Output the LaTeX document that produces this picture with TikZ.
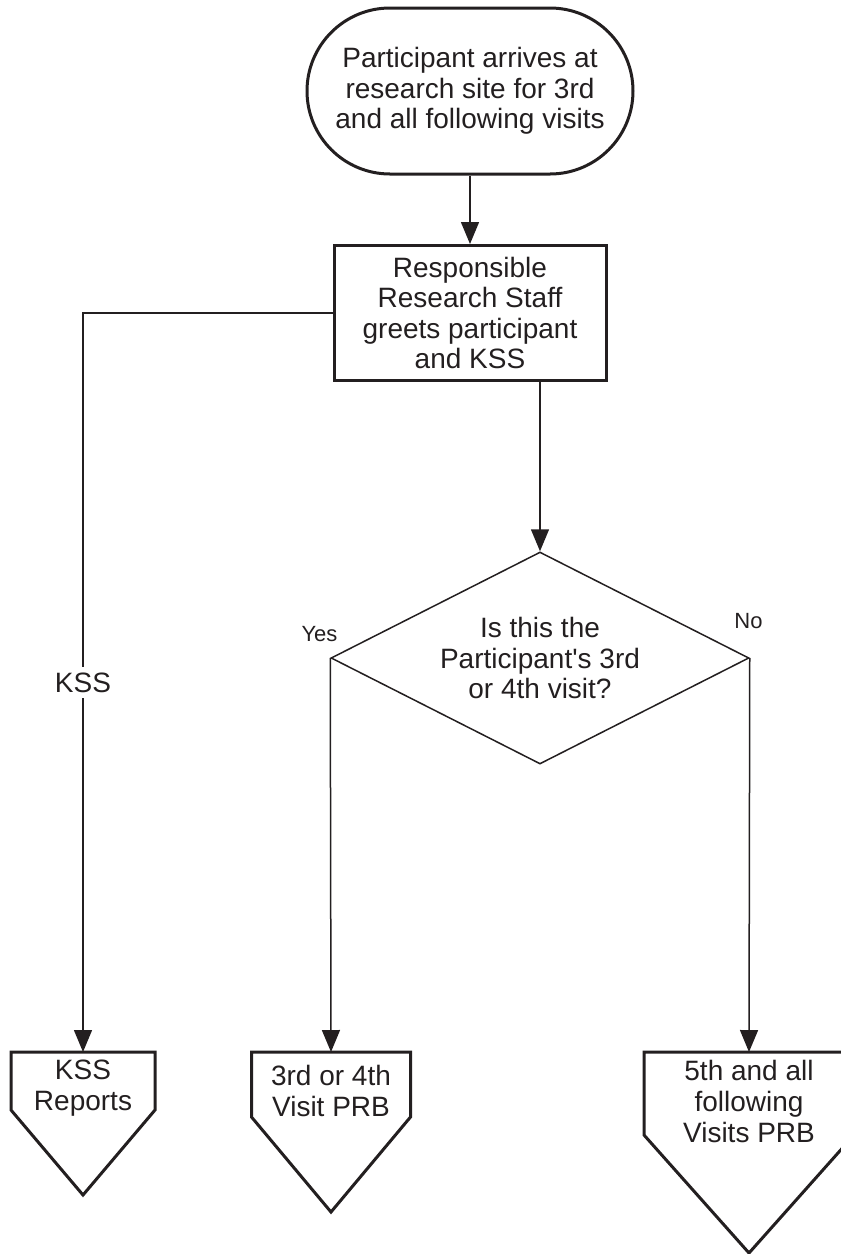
\documentclass[tikz,border=0pt]{standalone}
\usepackage{fontspec}
\setmainfont{Liberation Sans}
\usetikzlibrary{shapes.geometric,arrows.meta,calc}
\definecolor{ink}{RGB}{35,31,32}

% Off-page connector outline hanging below a text node:
% #1 node, #2 half width, #3 shoulder depth, #4 tip depth
\newcommand\offpageoutline[4]{%
  \draw[outline] ($(#1.north)+(-#2,0)$) -- ($(#1.north)+(#2,0)$)
    -- ($(#1.north)+(#2,#3)$) -- ($(#1.north)+(0,#4)$)
    -- ($(#1.north)+(-#2,#3)$) -- cycle;}

\begin{document}
\begin{tikzpicture}[x=1pt,y=-1pt,
  every node/.style={text=ink},
  bigtext/.style={font=\fontsize{28pt}{30.5pt}\selectfont, align=center},
  terminal/.style={bigtext, draw=ink, line width=3pt, rectangle,
    rounded corners=83pt, minimum width=326pt, minimum height=166pt, inner sep=0pt},
  process/.style={bigtext, draw=ink, line width=3pt, rectangle,
    minimum width=272pt, minimum height=135pt, inner sep=0pt},
  decision/.style={bigtext, draw=ink, line width=1.5pt, diamond, aspect=2,
    minimum width=418pt, minimum height=212pt, inner sep=0pt},
  offtext/.style={font=\fontsize{28pt}{31pt}\selectfont, align=center,
    anchor=north, inner xsep=0pt},
  outline/.style={draw=ink, line width=3pt, line join=miter},
  flow/.style={draw=ink, line width=1.5pt, -{Triangle[length=22pt,width=18pt]}},
  branch/.style={font=\fontsize{22pt}{26pt}\selectfont, anchor=base},
  flowlabel/.style={font=\fontsize{28pt}{30pt}\selectfont, fill=white, inner sep=6pt},
]
\useasboundingbox (0,0) rectangle (841,1254);
\clip (0,0) rectangle (841,1254);

% main chart
\node[terminal] (start) at (470,91)
  {Participant arrives at\\research site for 3rd\\and all following visits};
\node[process] (greet) at (470,313)
  {Responsible\\Research Staff\\greets participant\\and KSS};
\node[decision] (visit) at (540,658)
  {Is this the\\Participant\textquotesingle s 3rd\\or 4th visit?};

% off-page connectors
\node[offtext, inner ysep=8pt] (kss) at (83,1052) {KSS\\Reports};
\offpageoutline{kss}{72}{58}{143}
\node[offtext, inner ysep=12.6pt] (early) at (331,1052) {3rd or 4th\\Visit PRB};
\offpageoutline{early}{79.5}{65}{160}
\node[offtext, inner ysep=8.3pt] (later) at (749,1052) {5th and all\\following\\Visits PRB};
\offpageoutline{later}{105}{83}{201}

% branch labels
\node[branch] (yes) at (319.5,641.7) {Yes};
\node[branch] (no) at (748.5,628) {No};

% connectors
\draw[flow] (start) -- (greet);
\draw[flow] (greet.west) -- (kss.north |- greet.west)
  -- node[flowlabel] (kssnote) {KSS} (kss.north);
\draw[flow] (visit.north |- greet.south) -- (visit.north);
\draw[flow] (visit.west) -- (early.north);
\draw[flow] (visit.east) -- (later.north);
\end{tikzpicture}
\end{document}
